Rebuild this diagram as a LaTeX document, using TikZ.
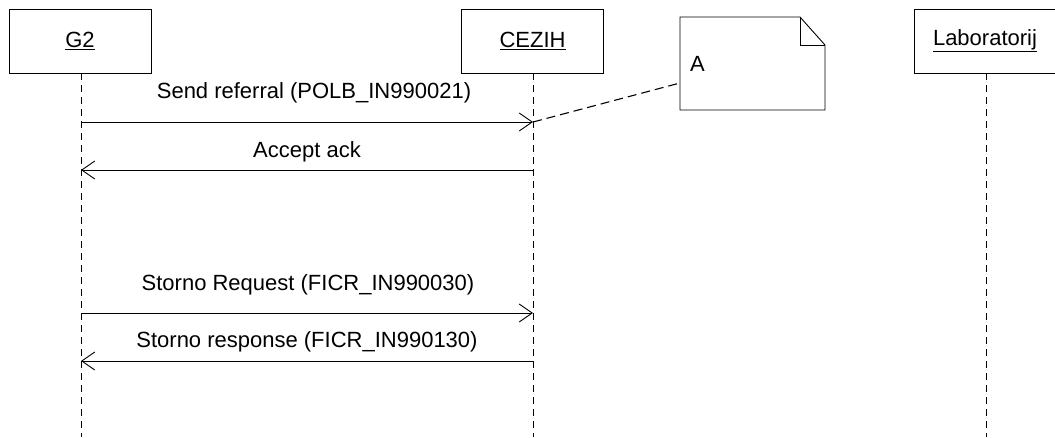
\documentclass[tikz,border=0pt]{standalone}
\usepackage{fontspec}
\setmainfont{Liberation Sans}
\usetikzlibrary{arrows.meta}
\begin{document}
\begin{tikzpicture}[x=1pt,y=-1pt,
  obj/.style={draw,line width=0.9pt,minimum width=142pt,minimum height=64pt,inner sep=0pt,font=\fontsize{22}{26}\selectfont},
  life/.style={draw,line width=0.9pt,dash pattern=on 7pt off 5pt},
  msg/.style={draw,line width=0.9pt,-{Straight Barb[length=13pt,width=18pt,line width=0.9pt]}},
  lbl/.style={font=\fontsize{22}{26}\selectfont,inner sep=0pt},
  notelink/.style={draw,line width=1.1pt,dash pattern=on 9pt off 5pt}]
\useasboundingbox (0,0) rectangle (1055,437);
\node[obj] (g2) at (80,41) {\underline{G2}};
\node[obj] (cz) at (532.5,41) {\underline{CEZIH}};
\node[obj] (lab) at (985,41) {\underline{Laboratorij}};
\coordinate (g2e) at (81,437);
\coordinate (cze) at (533,437);
\coordinate (labe) at (986,437);
\draw[life] (81,73) -- (g2e);
\draw[life] (533,73) -- (cze);
\draw[life] (986,73) -- (labe);
% messages
\coordinate (m1a) at (81,122); \coordinate (m1b) at (533,122);
\coordinate (m2a) at (533,170); \coordinate (m2b) at (81,170);
\coordinate (m3a) at (81,313); \coordinate (m3b) at (533,313);
\coordinate (m4a) at (533,361); \coordinate (m4b) at (81,361);
\draw[msg] (m1a) -- (m1b);
\draw[msg] (m2a) -- (m2b);
\draw[msg] (m3a) -- (m3b);
\draw[msg] (m4a) -- (m4b);
\node[lbl] (t1) at (314,93) {Send referral (POLB\_IN990021)};
\node[lbl] (t2) at (307,152) {Accept ack};
\node[lbl] (t3) at (308,285) {Storno Request (FICR\_IN990030)};
\node[lbl] (t4) at (307,342) {Storno response (FICR\_IN990130)};
% note
\draw[line width=0.9pt] (680,17) -- (800,17) -- (825,45) -- (825,110) -- (680,110) -- cycle;
\draw[line width=0.9pt] (800,17) -- (800,45) -- (825,45);
\coordinate (na) at (680,83);
\node[lbl,anchor=west] (nt) at (690,64) {A};
\draw[notelink] (m1b) -- (na);
\end{tikzpicture}
\end{document}
